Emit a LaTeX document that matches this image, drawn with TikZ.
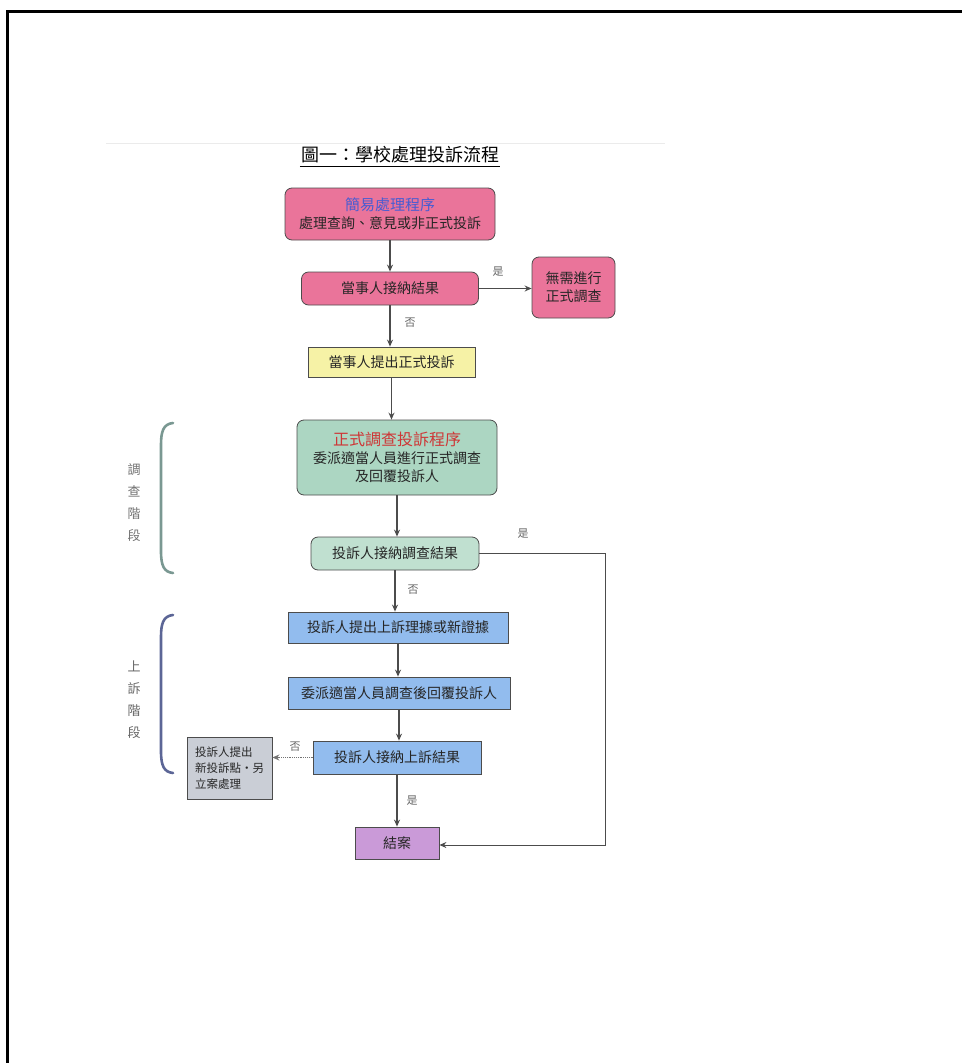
\documentclass[tikz,border=0pt]{standalone}
\usepackage{fontspec}
\newfontfamily\cjk{Noto Sans CJK TC}
\usetikzlibrary{arrows.meta}

\definecolor{pinkbox}{RGB}{234,116,154}
\definecolor{yellowbox}{RGB}{246,242,166}
\definecolor{tealbox}{RGB}{172,214,194}
\definecolor{greenbox}{RGB}{192,224,208}
\definecolor{bluebox}{RGB}{146,188,238}
\definecolor{graybox}{RGB}{202,206,214}
\definecolor{purplebox}{RGB}{202,154,216}
\definecolor{headblue}{RGB}{72,92,210}
\definecolor{headred}{RGB}{206,54,54}
\definecolor{brackA}{RGB}{122,152,146}
\definecolor{brackB}{RGB}{92,102,150}

\tikzset{
  box/.style={draw=black!70, line width=0.8pt, align=center, inner sep=0pt,
    text=black!85, font=\cjk\fontsize{14}{18}\selectfont},
  roundbox/.style={box, rounded corners=7pt},
  flow/.style={line width=1.2pt, draw=black!70, -{Stealth[length=7pt,width=6pt]}},
  yesno/.style={font=\cjk\fontsize{11}{13}\selectfont, text=black!60, inner sep=0pt},
  stage/.style={font=\cjk\fontsize{13}{22}\selectfont, text=black!60, align=center, inner sep=0pt},
}

\begin{document}
\begin{tikzpicture}[x=1pt,y=-1pt]
\useasboundingbox (0,0) rectangle (962,1063);
% frame and scan edge
\draw[line width=3pt] (7,1063) -- (7,11) -- (962,11);
\draw[black!8, line width=1pt] (106,143) -- (665,143);

% title
\node[font=\cjk\fontsize{18}{20}\selectfont, inner sep=1pt] (title) at (400,155) {圖一：學校處理投訴流程};
\draw[line width=0.8pt] ([yshift=-2pt]title.south west) -- ([yshift=-2pt]title.south east);

% boxes
\node[roundbox, fill=pinkbox, minimum width=210pt, minimum height=52pt] (simple) at (390,214)
  {{\fontsize{15}{18}\selectfont\color{headblue}簡易處理程序}\\處理查詢、意見或非正式投訴};
\node[roundbox, fill=pinkbox, minimum width=177pt, minimum height=33pt] (accept1) at (390,288.5) {當事人接納結果};
\node[roundbox, fill=pinkbox, minimum width=83pt, minimum height=61pt] (noneed) at (573.5,287.5) {無需進行\\正式調查};
\node[box, fill=yellowbox, minimum width=167pt, minimum height=30pt] (formal) at (391.5,362) {當事人提出正式投訴};
\node[roundbox, fill=tealbox, minimum width=200pt, minimum height=75pt] (invest) at (397,457.5)
  {{\fontsize{16}{19}\selectfont\color{headred}正式調查投訴程序}\\委派適當人員進行正式調查\\及回覆投訴人};
\node[roundbox, fill=greenbox, minimum width=168pt, minimum height=33pt] (accept2) at (395,553.5) {投訴人接納調查結果};
\node[box, fill=bluebox, minimum width=220pt, minimum height=31pt] (appeal) at (398,627.5) {投訴人提出上訴理據或新證據};
\node[box, fill=bluebox, minimum width=222pt, minimum height=32pt] (review) at (399,693) {委派適當人員調查後回覆投訴人};
\node[box, fill=bluebox, minimum width=168pt, minimum height=33pt] (accept3) at (397,757.5) {投訴人接納上訴結果};
\node[box, fill=graybox, minimum width=85pt, minimum height=62pt, align=left,
  font=\cjk\fontsize{11.5}{16}\selectfont] (newcase) at (229.5,768) {投訴人提出\\新投訴點‧另\\立案處理};
\node[box, fill=purplebox, minimum width=84pt, minimum height=32pt] (close) at (397,843) {結案};

% connectors
\draw[flow] (simple.south) -- (accept1.north);
\draw[flow] (accept1.east) -- (noneed.west |- accept1.east);
\draw[flow] (accept1.south) -- (accept1.south |- formal.north);
\draw[flow] (formal.south) -- (formal.south |- invest.north);
\draw[flow] (invest.south) -- (invest.south |- accept2.north);
\draw[flow] (accept2.south) -- (accept2.south |- appeal.north);
\draw[flow] (appeal.south) -- (appeal.south |- review.north);
\draw[flow] (review.south) -- (review.south |- accept3.north);
\draw[flow] (accept3.south) -- (accept3.south |- close.north);
\draw[flow, densely dotted, draw=black!55] (accept3.west) -- (newcase.east |- accept3.west);
\coordinate (turn1) at (605,553.5);
\coordinate (turn2) at (605,845);
\draw[flow, line width=1pt] (accept2.east) -- (turn1) -- (turn2) -- (close.east |- turn2);

% yes / no
\node[yesno] (yes1) at (498,272) {是};
\node[yesno] (no1) at (410,323) {否};
\node[yesno] (yes2) at (523,534) {是};
\node[yesno] (no2) at (413,590) {否};
\node[yesno] (no3) at (295,747) {否};
\node[yesno] (yes3) at (412,801) {是};

% stage brackets
\draw[brackA, line width=2.6pt, line cap=round] (173,423) .. controls (163,424) and (161,432) .. (161,445)
  -- (161,551) .. controls (161,566) and (164,572) .. (173,573);
\node[stage, text=black!55] (stage1) at (134,503) {調\\查\\階\\段};
\draw[brackB, line width=2.6pt, line cap=round] (173,615) .. controls (163,616) and (161,624) .. (161,637)
  -- (161,751) .. controls (161,766) and (164,772) .. (173,773);
\node[stage] (stage2) at (134,700) {上\\訴\\階\\段};
\end{tikzpicture}
\end{document}
